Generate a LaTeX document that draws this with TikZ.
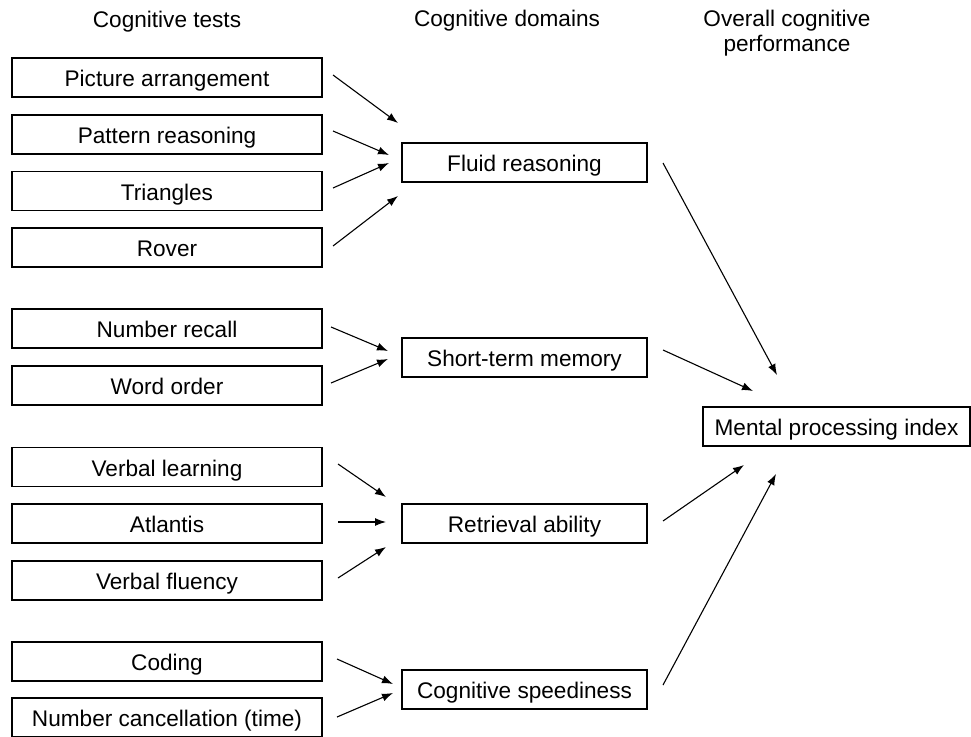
\documentclass[tikz,border=0pt]{standalone}
\usepackage{fontspec}
\setmainfont{Liberation Sans}
\usetikzlibrary{arrows.meta}
\begin{document}
\begin{tikzpicture}[x=1pt,y=-1pt,
  every node/.style={font=\fontsize{22.6}{25}\selectfont},
  boxbase/.style={draw,line width=1.1pt,minimum height=39pt,inner sep=0pt,text height=18pt,text depth=0pt},
  testbox/.style={boxbase,minimum width=310pt},
  dombox/.style={boxbase,minimum width=245pt},
  idxbox/.style={boxbase,minimum width=267pt},
  head/.style={align=center,inner sep=0pt},
  conn/.style={line width=1.1pt,-{Latex[length=11pt,width=8pt]}}]
\useasboundingbox (0,0) rectangle (971,736);
% headers
\node[head] (h1) at (167,22) {Cognitive tests};
\node[head] (h2) at (507,21) {Cognitive domains};
\node[head] (h3) at (787,33) {Overall cognitive\\performance};
% tests
\node[testbox] (pa) at (167,77.5) {Picture arrangement};
\node[testbox] (pr) at (167,134.5) {Pattern reasoning};
\node[testbox] (tri) at (167,191) {Triangles};
\node[testbox] (rov) at (167,247.5) {Rover};
\node[testbox] (nr) at (167,328.5) {Number recall};
\node[testbox] (wo) at (167,385.5) {Word order};
\node[testbox] (vl) at (167,467) {Verbal learning};
\node[testbox] (atl) at (167,523.5) {Atlantis};
\node[testbox] (vf) at (167,580.5) {Verbal fluency};
\node[testbox] (cod) at (167,661.5) {Coding};
\node[testbox] (nc) at (167,717.5) {Number cancellation (time)};
% domains
\node[dombox] (fr) at (524.5,162.5) {Fluid reasoning};
\node[dombox] (stm) at (524.5,357.5) {Short-term memory};
\node[dombox] (ra) at (524.5,523.5) {Retrieval ability};
\node[dombox] (cs) at (524.5,689.5) {Cognitive speediness};
% index
\node[idxbox] (mpi) at (836.5,426.5) {Mental processing index};
% connector end points
\coordinate (pa-s) at (333,75);   \coordinate (pa-e) at (398,123);
\coordinate (pr-s) at (333,131);  \coordinate (pr-e) at (389,155);
\coordinate (tri-s) at (333,188); \coordinate (tri-e) at (389,163);
\coordinate (rov-s) at (333,246); \coordinate (rov-e) at (398,196);
\coordinate (nr-s) at (331,327);  \coordinate (nr-e) at (388,351);
\coordinate (wo-s) at (331,383);  \coordinate (wo-e) at (388,359);
\coordinate (vl-s) at (338,464);  \coordinate (vl-e) at (386,497);
\coordinate (atl-s) at (338,522); \coordinate (atl-e) at (386,522);
\coordinate (vf-s) at (338,578);  \coordinate (vf-e) at (386,547);
\coordinate (cod-s) at (337,659); \coordinate (cod-e) at (393,684);
\coordinate (nc-s) at (337,717);  \coordinate (nc-e) at (393,693);
\coordinate (fr-s) at (663,163);  \coordinate (fr-e) at (777,375);
\coordinate (stm-s) at (663,350); \coordinate (stm-e) at (753,391);
\coordinate (ra-s) at (663,521);  \coordinate (ra-e) at (744,465);
\coordinate (cs-s) at (663,685);  \coordinate (cs-e) at (776,474);
% connectors
\foreach \n in {pa,pr,tri,rov,nr,wo,vl,atl,vf,cod,nc,fr,stm,ra,cs}
  \draw[conn] (\n-s) -- (\n-e);
\end{tikzpicture}
\end{document}
